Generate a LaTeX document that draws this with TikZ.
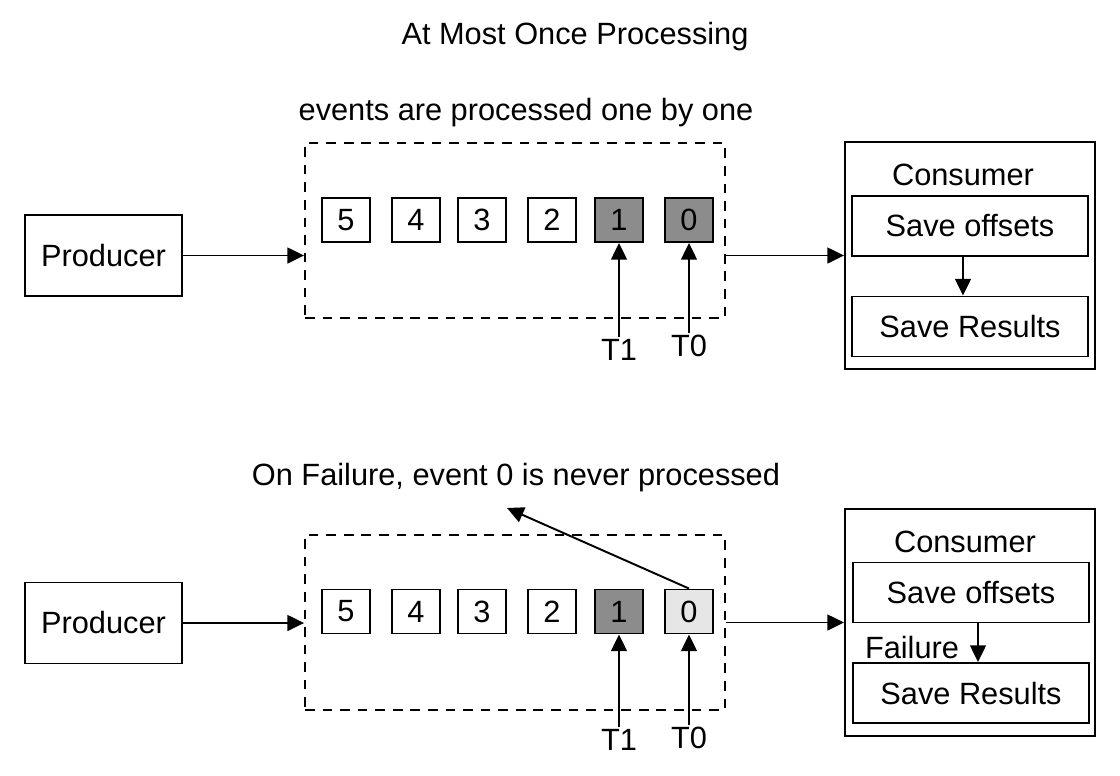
\documentclass[tikz,border=0pt]{standalone}
\usepackage{fontspec}
\setmainfont{Liberation Sans}
\usetikzlibrary{arrows.meta,positioning}
\definecolor{doneev}{HTML}{8C8C8C}
\definecolor{lostev}{HTML}{E6E6E6}

\begin{document}
\begin{tikzpicture}[
  x=0.02cm, y=-0.02cm,
  font=\fontsize{17.5}{21}\selectfont,
  box/.style={draw, line width=1.1pt, inner sep=2pt, align=center},
  event/.style={box, minimum width=0.96cm, minimum height=0.88cm},
  producer/.style={box, minimum width=3.14cm, minimum height=1.62cm},
  consumer/.style={box, minimum width=5.0cm, minimum height=4.54cm},
  stage/.style={box, minimum width=4.72cm, minimum height=1.2cm},
  queue/.style={draw, dash pattern=on 5.5pt off 4.5pt, line width=1.1pt, minimum width=8.4cm, minimum height=3.5cm},
  ptr/.style={inner sep=1pt},
  arrow/.style={-{Triangle[length=9.5pt, width=9pt]}, line width=1.1pt},
]
\useasboundingbox (0,0) rectangle (1120,775);

% ===== Top half: normal run =====
\node (title) at (575,37) {At Most Once Processing};
\node (topnote) at (526,113) {events are processed one by one};

\node[producer] (topprod) at (103.5,255.5) {Producer};
\node[queue] (topq) at (515,230.5) {};
\foreach \n/\x/\c in {5/346/white,4/416/white,3/482/white,2/552/white,1/619/doneev,0/689/doneev}
  \node[event, fill=\c] (top\n) at (\x,220) {\n};

\node[ptr] (topt1) at (619,350) {T1};
\node[ptr] (topt0) at (689,346) {T0};
\draw[arrow] (topt1.north) -- (top1.south);
\draw[arrow] (topt0.north) -- (top0.south);

\node[consumer] (topcons) at (970,255.5) {};
\node (topctitle) at (963,175) {Consumer};
\node[stage] (topoffs) at (970,226) {Save offsets};
\node[stage] (topres) at (970,326.5) {Save Results};
\draw[arrow] (topoffs.south -| topctitle) -- (topres.north -| topctitle);

\draw[arrow] (topprod.east) -- (topprod.east -| topq.west);
\draw[arrow] (topq.east |- topcons) -- (topcons.west);

% ===== Bottom half: failure after saving offsets =====
\node (botnote) at (516,478) {On Failure, event 0 is never processed};

\node[producer] (botprod) at (103.5,623) {Producer};
\node[queue] (botq) at (515,622.5) {};
\foreach \n/\x/\c in {5/346/white,4/416/white,3/482/white,2/552/white,1/619/doneev,0/689/lostev}
  \node[event, fill=\c] (bot\n) at (\x,611.5) {\n};

\node[ptr] (bott1) at (619,740) {T1};
\node[ptr] (bott0) at (689,738) {T0};
\draw[arrow] (bott1.north) -- (bot1.south);
\draw[arrow] (bott0.north) -- (bot0.south);
\coordinate (lost) at (507,508);
\draw[arrow] (bot0.north) -- (lost);

\node[consumer] (botcons) at (970,622.5) {};
\node (botctitle) at (965,542) {Consumer};
\node[stage] (botoffs) at (971,592.5) {Save offsets};
\node[stage] (botres) at (971,693) {Save Results};
\draw[arrow] ([xshift=0.14cm]botoffs.south) -- ([xshift=0.14cm]botres.north);
\node[ptr] (fail) at (912,648) {Failure};

\draw[arrow] (botprod.east) -- (botprod.east -| botq.west);
\draw[arrow] (botq.east |- botcons) -- (botcons.west);

\end{tikzpicture}
\end{document}
